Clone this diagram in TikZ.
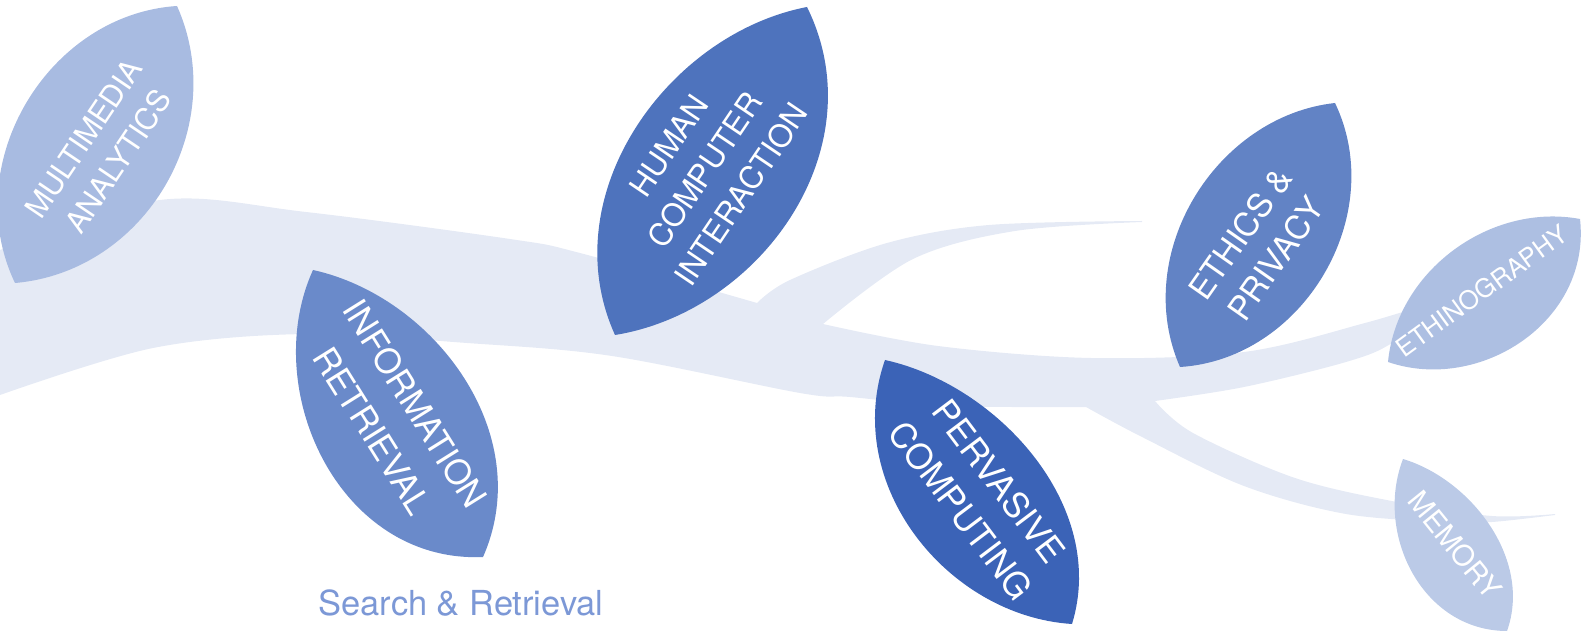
\documentclass[tikz,border=0pt]{standalone}
\usepackage{fontspec}
\setmainfont{TeX Gyre Heros}

\definecolor{branchc}{HTML}{E5EAF5}
\definecolor{leafma}{HTML}{A8BBE1}
\definecolor{leafir}{HTML}{6A8ACA}
\definecolor{leafhci}{HTML}{4E73BD}
\definecolor{leafpc}{HTML}{3B63B7}
\definecolor{leafep}{HTML}{6283C5}
\definecolor{leafeth}{HTML}{ADBFE2}
\definecolor{leafmem}{HTML}{BBCAE7}
\definecolor{captionc}{HTML}{7C98D6}

\newcommand{\fsz}[2]{\fontsize{#1}{#2}\selectfont}

\tikzset{
  leaftext/.style={text=white, align=center, inner sep=0pt},
  edge/.style={smooth, tension=0.55},
}

\begin{document}
\begin{tikzpicture}[x=0.01cm, y=-0.01cm]
\useasboundingbox (0,0) rectangle (1585,634);

% the branch: main stem, upper twig, main continuation and lower twig
\fill[branchc]
  plot[edge] coordinates {(0,250) (160,200) (306,212) (510,239) (580,253) (757,303)}
  -- plot[edge] coordinates {(757,303) (790,280) (887,243) (989,225) (1142,221)}
  -- plot[edge] coordinates {(1142,222) (1015,231) (913,259) (823,324)}
  -- plot[edge] coordinates {(823,324) (938,346) (1091,358) (1244,352) (1365,323) (1440,300)}
  -- plot[edge] coordinates {(1440,303) (1392,343) (1346,362) (1244,387) (1155,401)}
  -- plot[edge] coordinates {(1155,401) (1193,433) (1295,478) (1397,502) (1492,516) (1555,514)}
  -- plot[edge] coordinates {(1555,515) (1492,522) (1448,522) (1346,514) (1244,486) (1142,437) (1086,407)}
  -- plot[edge] coordinates {(1086,407) (950,406) (850,397) (800,393) (612,356) (467,343) (306,334) (153,348) (0,395)}
  -- cycle;

% leaves, each one two cubic edges between its tips
\fill[leafma] (177,6) .. controls (231,127) and (145.5,271.7) .. (15,283)
  .. controls (-42,163.7) and (48,14.3) .. (177,6) -- cycle;
\fill[leafir] (313,270) .. controls (258.7,389.7) and (339.3,563.3) .. (483,557)
  .. controls (537.3,434.3) and (434.2,296.7) .. (313,270) -- cycle;
\fill[leafhci] (807,7) .. controls (877.1,148.8) and (760.4,311.4) .. (615,335)
  .. controls (551.7,195) and (668.2,33.7) .. (807,7) -- cycle;
\fill[leafpc] (885,360) .. controls (841.3,483.8) and (947.1,616) .. (1072,624)
  .. controls (1108.3,505.6) and (997.2,384.7) .. (885,360) -- cycle;
\fill[leafep] (1335,103) .. controls (1388.7,215.1) and (1303.5,359.2) .. (1180,367)
  .. controls (1130.3,253.5) and (1216.3,116) .. (1335,103) -- cycle;
\fill[leafeth] (1580,219) .. controls (1591.3,321.7) and (1479.6,393.4) .. (1388,362)
  .. controls (1396.7,270.8) and (1490.3,202.3) .. (1580,219) -- cycle;
\fill[leafmem] (1403,459) .. controls (1374.3,533.2) and (1421.8,630.8) .. (1507,631)
  .. controls (1532.7,558.8) and (1470.3,479.2) .. (1403,459) -- cycle;

% leaf labels
\node[leaftext, rotate=56, font=\fsz{8.6}{11.8}] (ma) at (101,150) {MULTIMEDIA\\ANALYTICS};
\node[leaftext, rotate=-58, font=\fsz{9.8}{14.4}] (ir) at (394,417) {INFORMATION\\RETRIEVAL};
\node[leaftext, rotate=56, font=\fsz{8.9}{12.4}] (hci) at (705,170) {HUMAN\\COMPUTER\\INTERACTION};
\node[leaftext, rotate=-53, font=\fsz{9.9}{13.6}] (pc) at (980,496) {PERVASIVE\\COMPUTING};
\node[leaftext, rotate=55, font=\fsz{9.4}{12.4}] (ep) at (1258,246) {ETHICS \&\\PRIVACY};
\node[leaftext, rotate=36, font=\fsz{7.3}{9}] (eth) at (1482,291) {ETHINOGRAPHY};
\node[leaftext, rotate=-51, font=\fsz{8.2}{10}] (mem) at (1455,545) {MEMORY};

% caption
\node[text=captionc, inner sep=0pt, font=\fsz{9.8}{12}] (sr) at (461,603) {Search \& Retrieval};
\end{tikzpicture}
\end{document}
